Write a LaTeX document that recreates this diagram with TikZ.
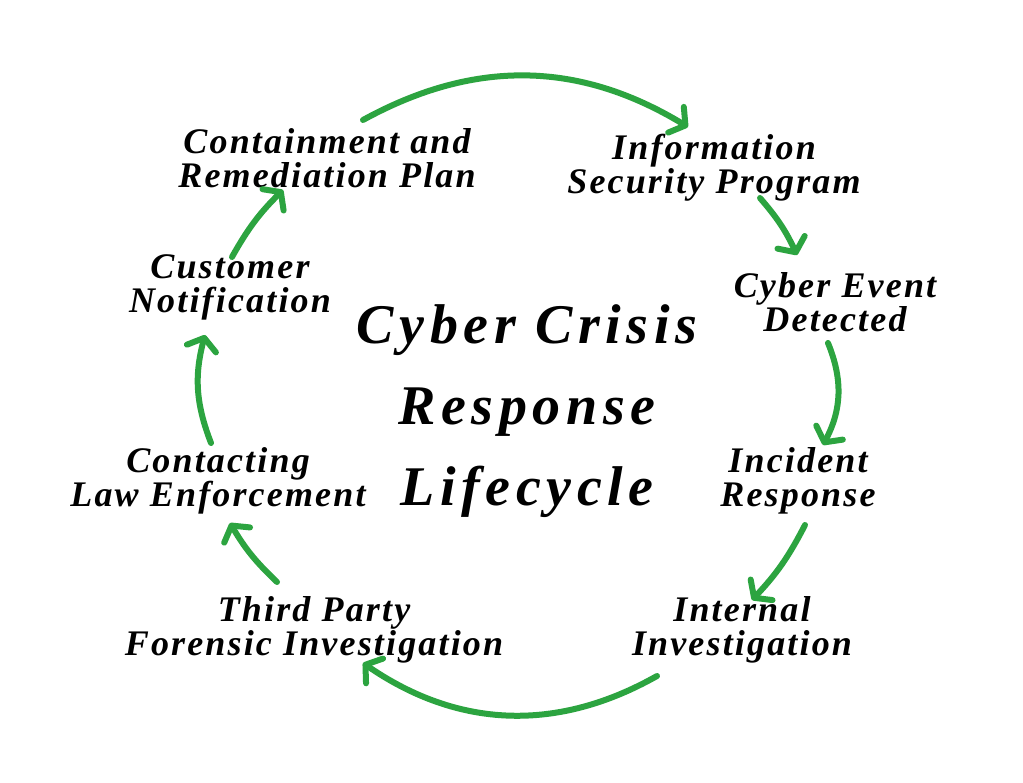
\documentclass[tikz,border=0pt]{standalone}
\usepackage{fontspec}
\setmainfont{Liberation Serif}
\usetikzlibrary{arrows.meta, calc, positioning}
\newfontfamily\labelfont[LetterSpace=6]{Liberation Serif}
\newfontfamily\titlefont[LetterSpace=10]{Liberation Serif}
\definecolor{cyclegreen}{RGB}{44,164,64}

\begin{document}
\begin{tikzpicture}[x=1pt, y=1pt,
    flow/.style={cyclegreen, line width=6pt, line cap=round,
        -{Straight Barb[length=11pt, width=30pt, round]}}]
\useasboundingbox[fill=white] (0,0) rectangle (1023,782);
\begin{scope}[every node/.style={align=center, inner sep=0pt,
        font=\labelfont\bfseries\itshape\fontsize{36}{34}\selectfont}]
    \node (contain) at (327,624) {Containment and\\Remediation Plan};
    \node (infosec) at (714,614) {Information\\Security Program};
    \node (detected) at (835,480) {Cyber Event\\Detected};
    \node (incident) at (798,301) {Incident\\Response};
    \node (internal) at (742,152) {Internal\\Investigation};
    \node (forensic) at (314,152) {Third Party\\Forensic Investigation};
    \node (lawenf) at (218,301) {Contacting\\Law Enforcement};
    \node (customer) at (230,495) {Customer\\Notification};
\end{scope}
\node[align=center, inner sep=0pt,
    font=\titlefont\bfseries\itshape\fontsize{56}{81}\selectfont]
    (title) at (527,371) {Cyber Crisis\\Response\\Lifecycle};

\draw[flow] ($(contain)+(36,38)$) to[bend left=30] ($(infosec)+(-26,41)$);
\draw[flow] ($(infosec)+(46,-30)$) to[bend left=8] ($(detected)+(-38,47)$);
\draw[flow] ($(detected)+(-7,-41)$) to[bend left=25] ($(incident)+(25,36)$);
\draw[flow] ($(incident)+(7,-44)$) to[bend left=8] ($(internal)+(10,30)$);
\draw[flow] ($(internal)+(-85,-46)$) to[bend left=32] ($(forensic)+(49,-33)$);
\draw[flow] ($(forensic)+(-37,48)$) to[bend left=8] ($(lawenf)+(12,-42)$);
\draw[flow] ($(lawenf)+(-7,38)$) to[bend left=18] ($(customer)+(-25,-48)$);
\draw[flow] ($(customer)+(2,30)$) to[bend left=8] ($(contain)+(-44,-32)$);
\end{tikzpicture}
\end{document}
